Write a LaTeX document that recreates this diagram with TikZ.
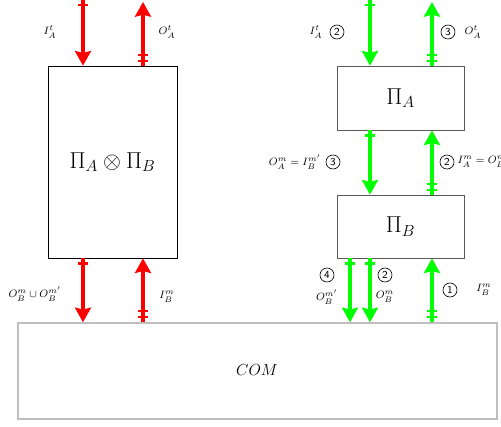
\documentclass[tikz,border=0pt]{standalone}
\usetikzlibrary{arrows.meta,decorations.markings,fit}
\begin{document}
\begin{tikzpicture}[x=0.75pt,y=-0.75pt,
  box/.style={draw=black,line width=0.5pt,inner sep=0pt},
  gbox/.style={draw=black!65,line width=0.6pt,inner sep=0pt},
  combox/.style={draw=black!25,line width=1.1pt,inner sep=0pt},
  lab/.style={font=\footnotesize,inner sep=1pt},
  num/.style={circle,draw,line width=0.5pt,inner sep=0.6pt,minimum size=10.5pt,font=\sffamily\footnotesize},
  downarr/.style={draw=#1,line width=2.4pt,-{Stealth[length=11pt,width=12pt,inset=1.5pt]},
    postaction={decorate,decoration={markings,mark=at position 3.75pt with {\draw[#1,arrows=-,line width=1.8pt] (0,-3.5pt)--(0,3.5pt);}}}},
  uparr/.style={draw=#1,line width=2.4pt,-{Stealth[length=11pt,width=12pt,inset=1.5pt]},
    postaction={decorate,decoration={markings,
      mark=at position 3.75pt with {\draw[#1,arrows=-,line width=1.6pt] (0,-3.5pt)--(0,3.5pt);},
      mark=at position 8.2pt with {\draw[#1,arrows=-,line width=1.6pt] (0,-3.5pt)--(0,3.5pt);}}}}
]
\useasboundingbox (0,0) rectangle (501,426);

% boxes
\node[box,fit={(48,66)(177,258)}] (L) {};
\node[font=\LARGE] (Llab) at (L.center) {$\Pi_A\otimes\Pi_B$};
\node[gbox,fit={(337,66)(464,130)}] (PA) {};
\node[font=\LARGE] (PAlab) at (PA.center) {$\Pi_A$};
\node[gbox,fit={(337,195)(464,258)}] (PB) {};
\node[font=\LARGE] (PBlab) at (PB.center) {$\Pi_B$};
\node[combox,fit={(18,323)(497,419)}] (COM) {};
\node[font=\large] (COMlab) at (257,370) {$COM$};

% free ends
\coordinate (t1) at (83,0);
\coordinate (t2) at (143,2);
\coordinate (t3) at (370,0);
\coordinate (t4) at (432,2);
\coordinate (b1) at (350,0);

% left (red) arrows
\draw[downarr=red] (t1) -- (t1 |- L.north);
\draw[uparr=red] (t2 |- L.north) -- (t2);
\draw[downarr=red] (L.south -| t1) -- (COM.north -| t1);
\draw[uparr=red] (COM.north -| t2) -- (L.south -| t2);

% right (green) arrows
\draw[downarr=green] (t3) -- (t3 |- PA.north);
\draw[uparr=green] (t4 |- PA.north) -- (t4);
\draw[downarr=green] (PA.south -| t3) -- (PB.north -| t3);
\draw[uparr=green] (PB.north -| t4) -- (PA.south -| t4);
\draw[downarr=green] (PB.south -| b1) -- (COM.north -| b1);
\draw[downarr=green] (PB.south -| t3) -- (COM.north -| t3);
\draw[uparr=green] (COM.north -| t4) -- (PB.south -| t4);

% left labels
\node[lab] (l1) at (50,32) {$I_A^t$};
\node[lab] (l2) at (167,32) {$O_A^t$};
\node[lab] (l3) at (35,294) {$O_B^m\cup O_B^{m'}$};
\node[lab] (l4) at (167,297) {$I_B^m$};

% right labels
\node[lab] (r1) at (316,32) {$I_A^t$};
\node[num] (n1) at (337,32) {2};
\node[num] (n2) at (448,32) {3};
\node[lab] (r2) at (473,32) {$O_A^t$};
\node[lab] (r3) at (295,162) {$O_A^m=I_B^{m'}$};
\node[num] (n3) at (333,162) {3};
\node[num] (n4) at (447,162) {2};
\node[lab,anchor=west] (r4) at (456,162) {$I_A^m=O_B^m$};
\node[num] (n5) at (327,275) {4};
\node[lab] (r5) at (327,297) {$O_B^{m'}$};
\node[num] (n6) at (385,275) {2};
\node[lab] (r6) at (385,297) {$O_B^m$};
\node[num] (n7) at (450,290) {1};
\node[lab] (r7) at (484,290) {$I_B^m$};
\end{tikzpicture}
\end{document}
